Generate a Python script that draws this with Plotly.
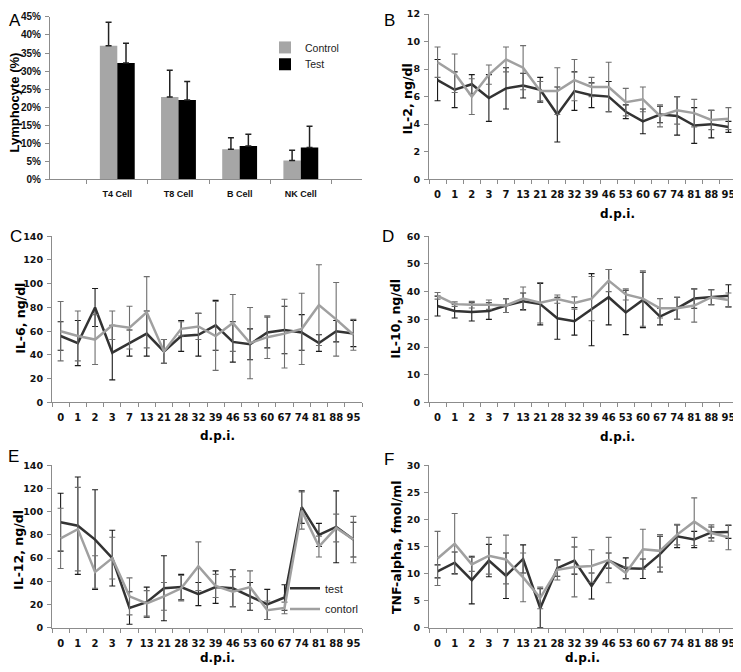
import plotly.graph_objects as go

# page body has an 8px default margin, so the figure is placed at (8, 8)
OFF = 8
FW, FH = 733, 664

# ---------------- data ----------------
cells = ["T4 Cell", "T8 Cell", "B Cell", "NK Cell"]
a_control = [0.370, 0.228, 0.083, 0.052]
a_control_err = [0.065, 0.074, 0.032, 0.028]
a_test = [0.322, 0.220, 0.092, 0.088]
a_test_err = [0.055, 0.051, 0.033, 0.059]

dpi = ["0", "1", "2", "3", "7", "13", "21", "28", "32", "39", "46", "53", "60", "67", "74", "81", "88", "95"]

il2_test = [7.2, 6.5, 6.9, 5.9, 6.6, 6.8, 6.5, 4.7, 6.4, 6.1, 6.0, 4.9, 4.2, 4.7, 4.6, 3.9, 4.0, 3.8]
il2_test_err = [1.5, 1.3, 0.7, 1.7, 1.5, 0.9, 0.9, 2.0, 1.4, 0.9, 1.1, 0.5, 0.9, 0.6, 1.4, 1.3, 1.0, 0.4]
il2_control = [8.5, 7.7, 6.0, 7.6, 8.7, 8.1, 6.4, 6.4, 7.2, 6.7, 6.7, 5.6, 5.8, 4.6, 5.0, 4.8, 4.3, 4.4]
il2_control_err = [1.1, 1.4, 1.3, 0.7, 0.9, 1.6, 0.7, 1.7, 1.5, 0.7, 1.8, 1.0, 0.9, 0.8, 1.0, 1.0, 0.7, 0.8]

il6_test = [56, 50, 80, 42, 50, 58, 43, 56, 57, 65, 51, 49, 59, 61, 59, 50, 60, 58]
il6_test_err = [12, 19, 16, 23, 11, 19, 10, 13, 18, 21, 17, 13, 13, 20, 15, 7, 9, 11]
il6_control = [60, 56, 53, 65, 63, 76, 43, 62, 64, 56, 67, 50, 55, 58, 62, 82, 70, 57]
il6_control_err = [25, 21, 21, 12, 18, 30, 10, 6, 11, 29, 24, 30, 18, 29, 30, 34, 31, 13]

il10_test = [34.8, 33, 32.7, 33, 35, 36.5, 35.5, 30.4, 29.3, 33.5, 38, 32.5, 37, 31, 34, 37.5, 38, 38.5]
il10_test_err = [3.6, 2.5, 3.3, 3.0, 2.5, 3.0, 7.5, 7.6, 5.0, 13, 10, 8, 10, 3, 4, 3.5, 2.7, 4]
il10_control = [38.5, 35.5, 35.3, 35.3, 35, 37.5, 36, 37.3, 35.9, 37.5, 44, 39, 37.5, 34, 34, 35, 38, 37]
il10_control_err = [1.2, 0.8, 1.2, 1.7, 2.5, 4.2, 7.3, 1.5, 2.2, 8, 4, 2, 10, 3.5, 4, 6, 2.7, 2.5]

il12_test = [91, 88, 76, 60, 17, 22, 34, 35, 29, 35, 34, 27, 20, 26, 104, 80, 87, 76]
il12_test_err = [25, 42, 43, 24, 14, 13, 28, 11, 10, 14, 16, 12, 13, 11, 14, 10, 31, 15]
il12_control = [77, 85, 48, 60, 27, 21, 27, 34, 53, 36, 31, 35, 15, 17, 101, 70, 86, 76]
il12_control_err = [26, 36, 14, 18, 16, 11, 12, 11, 21, 10, 13, 14, 8, 5, 16, 9, 12, 20]

tnf_test = [10.4, 12.0, 8.8, 12.4, 9.6, 12.7, 3.6, 11.0, 12.4, 7.7, 12.4, 11.0, 10.9, 13.6, 16.9, 16.3, 17.6, 17.7]
tnf_test_err = [1.2, 2.0, 4.4, 3.0, 4.2, 2.6, 3.6, 1.5, 2.5, 2.4, 1.4, 1.9, 1.8, 3.3, 2.1, 1.5, 1.0, 1.2]
tnf_control = [12.8, 15.5, 11.7, 13.3, 12.6, 9.3, 5.5, 10.7, 11.2, 11.4, 12.5, 10.1, 14.5, 14.2, 17.2, 19.6, 17.5, 16.7]
tnf_control_err = [5.0, 5.6, 1.3, 3.4, 4.5, 4.5, 2.0, 1.9, 5.5, 3.0, 4.2, 1.1, 3.7, 3.0, 1.9, 4.4, 1.5, 2.3]

# ---------------- styling helpers ----------------
DARK = "#333333"
GRAY = "#a0a0a0"
AXIS = "#8c8c8c"
ARIAL = "Liberation Sans, Arial, sans-serif"
VERD = "DejaVu Sans, Verdana, sans-serif"


def px_x(p):
    return (p - OFF) / FW


def px_y(p):
    return 1 - (p - OFF) / FH


def dom_y(bottom, top):
    return [max(0.0, px_y(bottom)), min(1.0, px_y(top))]


def dom_x(left, right):
    return [max(0.0, px_x(left)), min(1.0, px_x(right))]


fig = go.Figure()

# Panel A bars
fig.add_trace(go.Bar(
    x=cells, y=a_control, name="Control", marker=dict(color="#a6a6a6", line=dict(width=0)),
    error_y=dict(type="data", array=a_control_err, arrayminus=[0] * 4, symmetric=False,
                 color="#222222", thickness=1.5, width=3),
    xaxis="x", yaxis="y", legend="legend", showlegend=True))
fig.add_trace(go.Bar(
    x=cells, y=a_test, name="Test", marker=dict(color="#000000", line=dict(width=0)),
    error_y=dict(type="data", array=a_test_err, arrayminus=[0] * 4, symmetric=False,
                 color="#222222", thickness=1.5, width=3),
    xaxis="x", yaxis="y", legend="legend3", showlegend=True))

panels = [
    (2, il2_test, il2_test_err, il2_control, il2_control_err),
    (3, il6_test, il6_test_err, il6_control, il6_control_err),
    (4, il10_test, il10_test_err, il10_control, il10_control_err),
    (5, il12_test, il12_test_err, il12_control, il12_control_err),
    (6, tnf_test, tnf_test_err, tnf_control, tnf_control_err),
]
for idx, t, te, c, ce in panels:
    show = idx == 5
    fig.add_trace(go.Scatter(
        x=dpi, y=t, mode="lines", name="test", line=dict(color=DARK, width=2.5),
        error_y=dict(type="data", array=te, color="#1a1a1a", thickness=1.1, width=3),
        xaxis=f"x{idx}", yaxis=f"y{idx}", showlegend=show, legend="legend2"))
    fig.add_trace(go.Scatter(
        x=dpi, y=c, mode="lines", name="contorl", line=dict(color=GRAY, width=2.5),
        error_y=dict(type="data", array=ce, color="#6e6e6e", thickness=1.1, width=3),
        xaxis=f"x{idx}", yaxis=f"y{idx}", showlegend=show, legend="legend4"))


# ---------------- axes ----------------
def xcat(dom, anchor, font, rng, standoff):
    return dict(domain=dom, anchor=anchor, type="category", range=rng,
                showline=True, linecolor=AXIS, linewidth=1, ticks="outside", ticklen=4,
                tickcolor=AXIS, tickson="boundaries", showgrid=False, zeroline=False,
                tickfont=font, tickangle=0, ticklabelstandoff=standoff, fixedrange=True)


def ylin(dom, anchor, rng, dtick, font, fmt=None):
    d = dict(domain=dom, anchor=anchor, range=rng, dtick=dtick, tick0=0,
             showline=True, linecolor=AXIS, linewidth=1, ticks="outside", ticklen=4,
             tickcolor=AXIS, showgrid=False, zeroline=False, tickfont=font,
             ticklabelstandoff=2, fixedrange=True)
    if fmt:
        d["tickformat"] = fmt
    return d


xt_font = dict(family=VERD, size=10, color="#111111", weight="bold")
yt_font = dict(family=VERD, size=9.5, color="#111111", weight="bold")

LX = dom_x(52, 362)
RX = dom_x(429, 737)
R1 = dom_y(176, 8)
R2 = dom_y(403, 234)
R3 = dom_y(632, 467)
line_rng = [-0.5, 17.5]

fig.update_layout(
    xaxis=xcat(dom_x(50, 362), "y",
               dict(family=ARIAL, size=9, color="#111111", weight="bold"), [-1.1, 4.0], 6),
    yaxis=ylin(dom_y(176, 11), "x", [0, 0.45], 0.05,
               dict(family=ARIAL, size=10, color="#111111", weight="bold"), ".0%"),
    xaxis2=xcat(RX, "y2", xt_font, line_rng, 6),
    yaxis2=ylin(R1, "x2", [0, 12], 2, yt_font),
    xaxis3=xcat(LX, "y3", xt_font, line_rng, 6),
    yaxis3=ylin(R2, "x3", [0, 140], 20, yt_font),
    xaxis4=xcat(RX, "y4", xt_font, line_rng, 6),
    yaxis4=ylin(R2, "x4", [0, 60], 10, yt_font),
    xaxis5=xcat(LX, "y5", xt_font, line_rng, 6),
    yaxis5=ylin(R3, "x5", [0, 140], 20, yt_font),
    xaxis6=xcat(RX, "y6", xt_font, line_rng, 6),
    yaxis6=ylin(R3, "x6", [0, 30], 5, yt_font),
)


def leg(x, y, size):
    return dict(x=px_x(x), y=px_y(y), xanchor="left", yanchor="middle",
                bgcolor="rgba(0,0,0,0)", font=dict(family=ARIAL, size=size, color="#222222"),
                itemwidth=30, tracegroupgap=0, visible=True)


fig.update_layout(
    width=FW, height=FH, margin=dict(l=0, r=0, t=0, b=0),
    paper_bgcolor="white", plot_bgcolor="white", showlegend=True,
    barmode="group", bargap=0.43, bargroupgap=0,
    legend=leg(265, 42, 10.5),
    legend3=leg(265, 59, 10.5),
    legend2=leg(285, 592, 11),
    legend4=leg(285, 613, 11),
    font=dict(family=VERD),
)

annots = []
# panel letters
for letter, x, y in [("A", 15, 15), ("B", 389, 15), ("C", 16, 234), ("D", 388, 234),
                     ("E", 13, 458), ("F", 389, 461)]:
    annots.append(dict(text=letter, x=px_x(x), y=px_y(y), xref="paper", yref="paper",
                       showarrow=False, xanchor="center", yanchor="middle",
                       font=dict(family=ARIAL, size=17, color="#000000")))
# y axis titles
for txt, x, y, fam, size in [("Lymphocyte (%)", 15, 98, ARIAL, 13),
                             ("IL-2, ng/dl", 408, 95, VERD, 12.5),
                             ("IL-6, ng/dl", 21, 318, VERD, 12.5),
                             ("IL-10, ng/dl", 396, 318, VERD, 12.5),
                             ("IL-12, ng/dl", 19, 553, VERD, 12.5),
                             ("TNF-alpha, fmol/ml", 396, 550, VERD, 12.5)]:
    annots.append(dict(text=txt, x=px_x(x), y=px_y(y), xref="paper", yref="paper",
                       showarrow=False, textangle=-90, xanchor="center", yanchor="middle",
                       font=dict(family=fam, size=size, color="#000000", weight="bold")))
# x axis titles
for x, y in [(617, 211), (217, 437), (617, 438), (217, 663), (582, 663)]:
    annots.append(dict(text="d.p.i.", x=px_x(x), y=px_y(y), xref="paper", yref="paper",
                       showarrow=False, xanchor="center", yanchor="middle",
                       font=dict(family=VERD, size=12, color="#000000", weight="bold")))
fig.update_layout(annotations=annots)

fig.write_html("out.html")
